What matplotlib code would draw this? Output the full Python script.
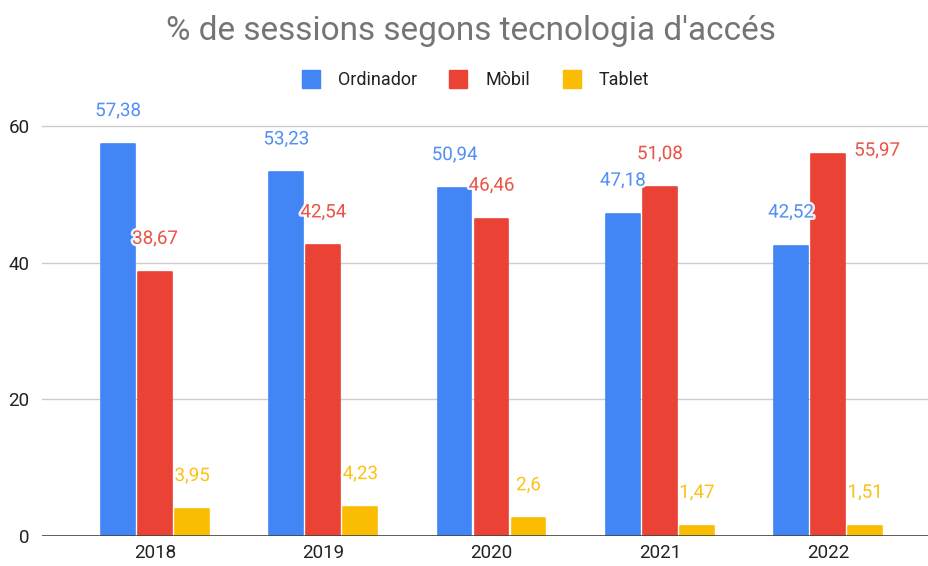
import matplotlib
matplotlib.use('Agg')
import matplotlib.pyplot as plt
import matplotlib.patheffects as pe
from matplotlib.lines import Line2D
import numpy as np

plt.rcParams['font.family'] = ['Roboto', 'DejaVu Sans']

# Data
years = ['2018', '2019', '2020', '2021', '2022']
ordinador = [57.38, 53.23, 50.94, 47.18, 42.52]
mobil = [38.67, 42.54, 46.46, 51.08, 55.97]
tablet = [3.95, 4.23, 2.6, 1.47, 1.51]
series_names = ['Ordinador', 'Mòbil', 'Tablet']
colors = ['#4285F4', '#EA4335', '#FBBC04']

fig = plt.figure(figsize=(9.29, 5.66), dpi=100)
ax = fig.add_axes([42 / 929, 30 / 566, 887 / 929, 444 / 566])

x = np.arange(len(years))
width = 0.2
offsets = [-0.22, 0.0, 0.22]
halo = [pe.withStroke(linewidth=3.5, foreground='white')]

for vals, off, col in zip([ordinador, mobil, tablet], offsets, colors):
    bars = ax.bar(x + off, vals, width, color=col, edgecolor=col,
                  linewidth=1.2, joinstyle='round', zorder=3)
    for i, (b, v) in enumerate(zip(bars, vals)):
        label = f'{v:g}'.replace('.', ',')
        dx, dy = 0, 33
        # the last mobile label is pushed to the right of its bar
        if col == colors[1] and i == len(vals) - 1:
            dx, dy = 49, 3
        ax.annotate(label, (b.get_x() + b.get_width() / 2, v),
                    xytext=(dx, dy), textcoords='offset pixels',
                    ha='center', va='center', fontsize=13.5, color=col,
                    alpha=0.9, path_effects=halo, zorder=5)

ax.set_xlim(-0.672, 4.6)
ax.set_ylim(0, 65)
ax.set_yticks([0, 20, 40, 60])
ax.set_xticks(x)
ax.set_xticklabels(years)
ax.tick_params(axis='both', length=0, labelsize=13.5, labelcolor='#222222')
ax.tick_params(axis='y', pad=9)
ax.tick_params(axis='x', pad=6)
ax.grid(axis='y', color='#cccccc', linewidth=1, zorder=0)
ax.axhline(0, color='#444444', linewidth=1.2, zorder=4)
for s in ax.spines.values():
    s.set_visible(False)

fig.text(471 / 929, 1 - 31 / 566, "% de sessions segons tecnologia d'accés",
         ha='center', va='center', fontsize=24, color='#757575')

handles = [Line2D([], [], marker='s', linestyle='none', markersize=13,
                  markerfacecolor=c, markeredgecolor=c) for c in colors]
fig.legend(handles, series_names, loc='center', ncol=3,
           bbox_to_anchor=(471 / 929, 1 - 80 / 566), frameon=False,
           fontsize=13, handletextpad=0.5, columnspacing=1.3,
           labelcolor='#222222')

plt.savefig('out.png', dpi=100)
